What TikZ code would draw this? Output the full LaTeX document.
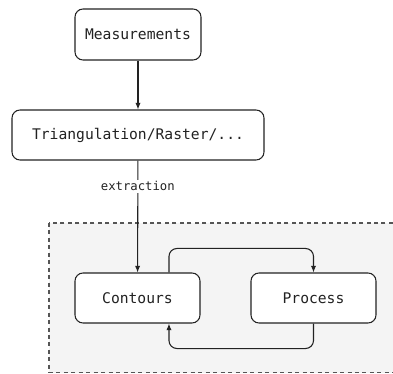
\documentclass[tikz,border=0pt]{standalone}
\usepackage{fontspec}
\setmonofont{DejaVu Sans Mono}
\usetikzlibrary{arrows.meta,positioning}
\definecolor{ink}{HTML}{222222}
\definecolor{panel}{HTML}{F4F4F4}
\definecolor{dashgray}{HTML}{555555}

\begin{document}
\begin{tikzpicture}[x=0.75pt,y=-0.75pt,>={Latex[length=5pt,width=4pt]},
  box/.style={draw=ink,line width=0.8pt,rounded corners=6pt,fill=white,
    minimum height=37.5pt,font=\ttfamily\fontsize{11}{13}\selectfont,text=ink},
  flow/.style={->,draw=ink,line width=0.8pt}]
\useasboundingbox (0,0) rectangle (393,374);
\clip (0,0) rectangle (393,374);
% shaded region holding the loop
\draw[dashgray,line width=0.8pt,dash pattern=on 3pt off 2.6pt,fill=panel] (49,223) rectangle (400,372.5);
\node[box,minimum width=94.5pt,minimum height=38.25pt] (meas) at (138,34.5) {Measurements};
\node[box,minimum width=189pt] (tri) at (138,135) {Triangulation/Raster/...};
\node[box,minimum width=93.75pt] (cont) at (137.5,298) {Contours};
\node[box,minimum width=93.75pt] (proc) at (313.5,298) {Process};
\draw[flow] (meas) -- (tri);
\draw[flow] (tri) -- (cont) node[pos=0.23,fill=white,inner sep=1.5pt,text=ink,
  font=\ttfamily\fontsize{9.2}{11}\selectfont] (extr) {extraction};
\draw[flow,rounded corners=6pt] ([xshift=23.6pt]cont.north) -- ++(0,-24) -| (proc.north);
\draw[flow,rounded corners=6pt] (proc.south) -- ++(0,25) -| ([xshift=23.6pt]cont.south);
\end{tikzpicture}
\end{document}
